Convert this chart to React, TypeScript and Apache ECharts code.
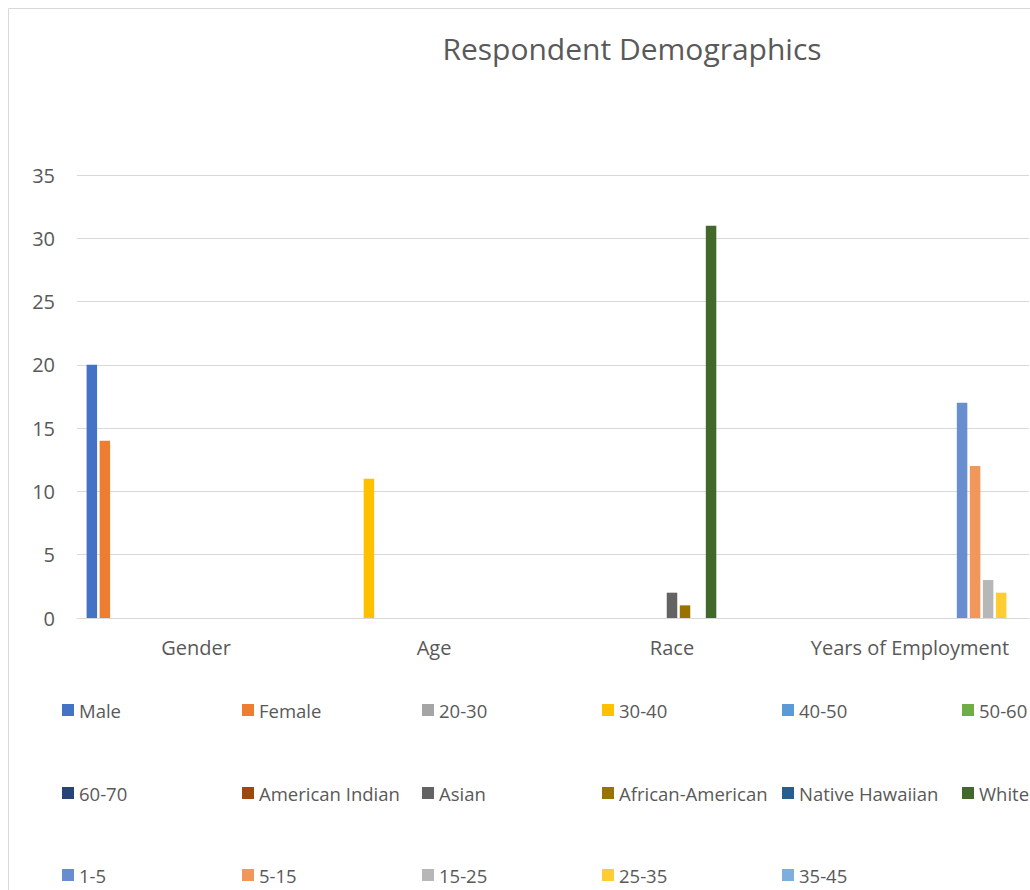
import React, { useEffect, useRef } from "react";
import * as echarts from "echarts";

// Survey groups along the x axis
const categories = ["Gender", "Age", "Race", "Years of Employment"];

// One bar series per answer option
const seriesNames = [
  "Male",
  "Female",
  "20-30",
  "30-40",
  "40-50",
  "50-60",
  "60-70",
  "American Indian",
  "Asian",
  "African-American",
  "Native Hawaiian",
  "White",
  "1-5",
  "5-15",
  "15-25",
  "25-35",
  "35-45",
];

// Respondent counts per group, in the same order as seriesNames
const genderCounts = [20, 14, 0, 0, 0, 0, 0, 0, 0, 0, 0, 0, 0, 0, 0, 0, 0];
const ageCounts = [0, 0, 0, 11, 0, 0, 0, 0, 0, 0, 0, 0, 0, 0, 0, 0, 0];
const raceCounts = [0, 0, 0, 0, 0, 0, 0, 0, 2, 1, 0, 31, 0, 0, 0, 0, 0];
const yearsCounts = [0, 0, 0, 0, 0, 0, 0, 0, 0, 0, 0, 0, 17, 12, 3, 2, 0];

// Value axis range
const yMin = 0;
const yMax = 35;
const yStep = 5;

const seriesColors = [
  "#4472C4",
  "#ED7D31",
  "#A5A5A5",
  "#FFC000",
  "#5B9BD5",
  "#70AD47",
  "#264478",
  "#9E480E",
  "#636363",
  "#997300",
  "#255E91",
  "#43682B",
  "#698ED0",
  "#F1975A",
  "#B7B7B7",
  "#FFCD33",
  "#7CAFDD",
];

const FONT = "'Open Sans', 'Noto Sans', sans-serif";
const TEXT = "#595959";
const RULE = "#D9D9D9";

export default function App() {
  const ref = useRef<HTMLDivElement>(null);

  useEffect(() => {
    if (!ref.current) return;
    const chart = echarts.init(ref.current, null, { renderer: "svg" });

    const series = seriesNames.map((name, i) => ({
      name,
      type: "bar",
      barWidth: 10.5,
      barGap: "24%",
      itemStyle: { color: seriesColors[i] },
      data: [genderCounts[i], ageCounts[i], raceCounts[i], yearsCounts[i]],
    }));

    // Legend laid out as three rows of up to six entries, 180px per column
    const legendRows = [
      seriesNames.slice(0, 6),
      seriesNames.slice(6, 12),
      seriesNames.slice(12),
    ];
    const legendTops = [692, 775, 857];

    const legend = legendRows.map((row, r) => ({
      data: row,
      left: 54,
      top: legendTops[r],
      width: 1200,
      orient: "horizontal",
      icon: "rect",
      itemWidth: 12,
      itemHeight: 12,
      itemGap: 3,
      selectedMode: false,
      padding: 0,
      textStyle: {
        fontFamily: FONT,
        fontSize: 18.5,
        color: TEXT,
        width: 160,
        lineHeight: 20,
        overflow: "none",
      },
    }));

    chart.setOption({
      animation: false,
      backgroundColor: "#FFFFFF",
      title: {
        text: "Respondent Demographics",
        left: 619,
        top: 20,
        textAlign: "center",
        textStyle: {
          fontFamily: FONT,
          fontSize: 30,
          fontWeight: "normal",
          color: TEXT,
        },
      },
      graphic: [
        {
          type: "rect",
          silent: true,
          shape: { x: 0.5, y: 0.5, width: 1100, height: 1000 },
          style: { fill: "none", stroke: RULE, lineWidth: 1 },
        },
      ],
      legend,
      grid: { left: 69, top: 167, width: 952, height: 443 },
      xAxis: {
        type: "category",
        data: categories,
        axisLine: { show: true, lineStyle: { color: RULE, width: 1 } },
        axisTick: { show: false },
        axisLabel: {
          interval: 0,
          fontFamily: FONT,
          fontSize: 20,
          color: TEXT,
          margin: 19,
        },
      },
      yAxis: {
        type: "value",
        min: yMin,
        max: yMax,
        interval: yStep,
        axisLine: { show: false },
        axisTick: { show: false },
        splitLine: { lineStyle: { color: RULE, width: 1 } },
        axisLabel: {
          fontFamily: FONT,
          fontSize: 20,
          color: TEXT,
          margin: 22,
        },
      },
      series,
    });

    return () => chart.dispose();
  }, []);

  return (
    <div
      ref={ref}
      style={{ position: "fixed", left: 8, top: 8, width: 1022, height: 882 }}
    />
  );
}
